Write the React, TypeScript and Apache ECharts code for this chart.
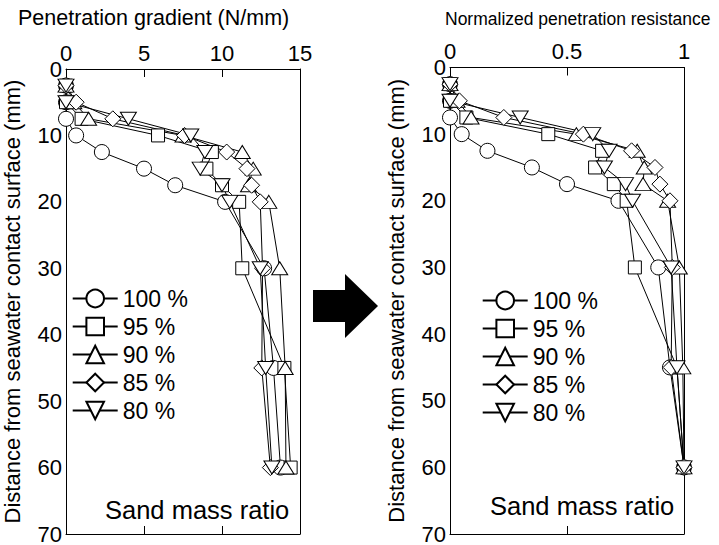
import React, { useEffect, useRef } from "react";
import * as echarts from "echarts";

// Depth below the seawater contact surface (mm)
const depths = [2.5, 5, 7.5, 10, 12.5, 15, 17.5, 20, 30, 45, 60];

// Sand mass ratio groups
const ratioNames = ["100 %", "95 %", "90 %", "85 %", "80 %"];

// Penetration gradient (N/mm) per depth
const gradient100 = [0, 0, 0, 0.65, 2.3, 5.0, 7.0, 10.2, 12.7, 13.3, 13.75];
const gradient95 = [0, 0, 1.0, 5.9, 9.35, 9.0, 10.0, 11.1, 11.3, 14.0, 14.4];
const gradient90 = [0, 0.5, 1.45, 7.5, 11.3, 12.0, 11.7, 13.0, 13.7, 14.05, 14.1];
const gradient85 = [0, 0.65, 3.0, 7.6, 10.3, 11.6, 11.9, 12.45, 12.6, 12.55, 13.1];
const gradient80 = [0, 0, 4.0, 8.0, 8.9, 8.6, 10.0, 10.5, 12.45, 12.8, 13.2];

// Normalized penetration resistance per depth
const normalized100 = [0, 0, 0, 0.05, 0.16, 0.35, 0.5, 0.72, 0.89, 0.94, 1];
const normalized95 = [0, 0, 0.07, 0.42, 0.65, 0.62, 0.7, 0.755, 0.79, 0.97, 1];
const normalized90 = [0, 0.03, 0.09, 0.54, 0.8, 0.83, 0.825, 0.93, 0.98, 0.995, 1];
const normalized85 = [0, 0.04, 0.23, 0.57, 0.776, 0.876, 0.897, 0.94, 0.95, 0.945, 1];
const normalized80 = [0, 0, 0.3, 0.61, 0.68, 0.66, 0.75, 0.78, 0.945, 0.97, 1];

const gradientSets = [gradient100, gradient95, gradient90, gradient85, gradient80];
const normalizedSets = [normalized100, normalized95, normalized90, normalized85, normalized80];

// Open marker for each ratio
const markerStyles = [
  { symbol: "circle", size: 15, rotate: 0 },
  { symbol: "rect", size: 13, rotate: 0 },
  { symbol: "triangle", size: [16, 13], rotate: 0 },
  { symbol: "diamond", size: 16, rotate: 0 },
  { symbol: "triangle", size: [16, 13], rotate: 180 },
];

const FONT = '"Liberation Sans", Arial, Helvetica, sans-serif';
const AXIS_LINE = { show: true, onZero: false, lineStyle: { color: "#000", width: 1 } };

function buildSeries(values: number[][], axisIndex: number) {
  return values.map((vals, k) => ({
    type: "line",
    name: ratioNames[k],
    xAxisIndex: axisIndex,
    yAxisIndex: axisIndex,
    data: depths.map((d, i) => [vals[i], d]),
    symbol: markerStyles[k].symbol,
    symbolSize: markerStyles[k].size,
    symbolRotate: markerStyles[k].rotate,
    showAllSymbol: true,
    lineStyle: { color: "#000", width: 1 },
    itemStyle: { color: "#fff", borderColor: "#000", borderWidth: 1 },
    color: "#000",
    emphasis: { disabled: true },
  }));
}

function topAxis(grid: number, max: number, interval: number) {
  return {
    type: "value",
    gridIndex: grid,
    position: "top",
    min: 0,
    max,
    interval,
    axisLine: AXIS_LINE,
    axisTick: { show: true, inside: true, length: 8, lineStyle: { color: "#000" } },
    axisLabel: { show: true, margin: 5, color: "#000", fontSize: 22, fontFamily: FONT },
    splitLine: { show: false },
  };
}

function bottomAxis(grid: number, max: number, interval: number) {
  return {
    type: "value",
    gridIndex: grid,
    position: "bottom",
    min: 0,
    max,
    interval,
    axisLine: AXIS_LINE,
    axisTick: { show: true, inside: true, length: 8, lineStyle: { color: "#000" } },
    axisLabel: { show: false },
    splitLine: { show: false },
  };
}

function leftAxis(grid: number) {
  return {
    type: "value",
    gridIndex: grid,
    position: "left",
    inverse: true,
    min: 0,
    max: 70,
    interval: 10,
    name: "Distance from seawater contact surface (mm)",
    nameLocation: "middle",
    nameGap: 43,
    nameTextStyle: { color: "#000", fontSize: 22, fontFamily: FONT },
    axisLine: AXIS_LINE,
    axisTick: { show: false },
    axisLabel: { show: true, margin: 4, color: "#000", fontSize: 22, fontFamily: FONT },
    splitLine: { show: false },
  };
}

function rightAxis(grid: number) {
  return {
    type: "value",
    gridIndex: grid,
    position: "right",
    inverse: true,
    min: 0,
    max: 70,
    interval: 10,
    axisLine: AXIS_LINE,
    axisTick: { show: false },
    axisLabel: { show: false },
    splitLine: { show: false },
  };
}

function legendAt(left: number, top: number) {
  return {
    orient: "vertical",
    left,
    top,
    padding: 0,
    itemWidth: 45,
    itemHeight: 22,
    itemGap: 5,
    selectedMode: false,
    data: ratioNames,
    textStyle: { color: "#000", fontSize: 23, lineHeight: 22, fontFamily: FONT },
  };
}

function textItem(text: string, x: number, y: number, size: number) {
  return {
    type: "text",
    x,
    y,
    silent: true,
    style: {
      text,
      fill: "#000",
      font: `${size}px ${FONT}`,
      align: "left",
      verticalAlign: "middle",
    },
  };
}

export default function App() {
  const ref = useRef<HTMLDivElement>(null);

  useEffect(() => {
    if (!ref.current) return;
    const chart = echarts.init(ref.current, null, { renderer: "svg" });
    chart.setOption({
      animation: false,
      backgroundColor: "#fff",
      grid: [
        { left: 66, top: 69, width: 234, height: 467 },
        { left: 450, top: 67.5, width: 234, height: 467.5 },
      ],
      xAxis: [topAxis(0, 15, 5), bottomAxis(0, 15, 5), topAxis(1, 1, 0.5), bottomAxis(1, 1, 0.5)],
      yAxis: [leftAxis(0), rightAxis(0), leftAxis(1), rightAxis(1)],
      legend: [legendAt(71.7, 287), legendAt(481.7, 289)],
      series: [
        ...buildSeries(gradientSets, 0),
        ...buildSeries(normalizedSets, 2),
      ],
      graphic: [
        textItem("Penetration gradient (N/mm)", 18, 18, 21.5),
        textItem("Normalized penetration resistance", 445, 19, 17.5),
        textItem("Sand mass ratio", 105, 510, 25.5),
        textItem("Sand mass ratio", 490, 506, 25.5),
        {
          type: "polygon",
          silent: true,
          shape: {
            points: [
              [313, 290],
              [345, 290],
              [345, 274],
              [378, 306],
              [345, 338],
              [345, 322],
              [313, 322],
            ],
          },
          style: { fill: "#000" },
        },
      ],
    });
    return () => chart.dispose();
  }, []);

  return (
    <div
      ref={ref}
      style={{ position: "fixed", left: 0, top: 0, width: 719, height: 545, background: "#fff" }}
    />
  );
}
